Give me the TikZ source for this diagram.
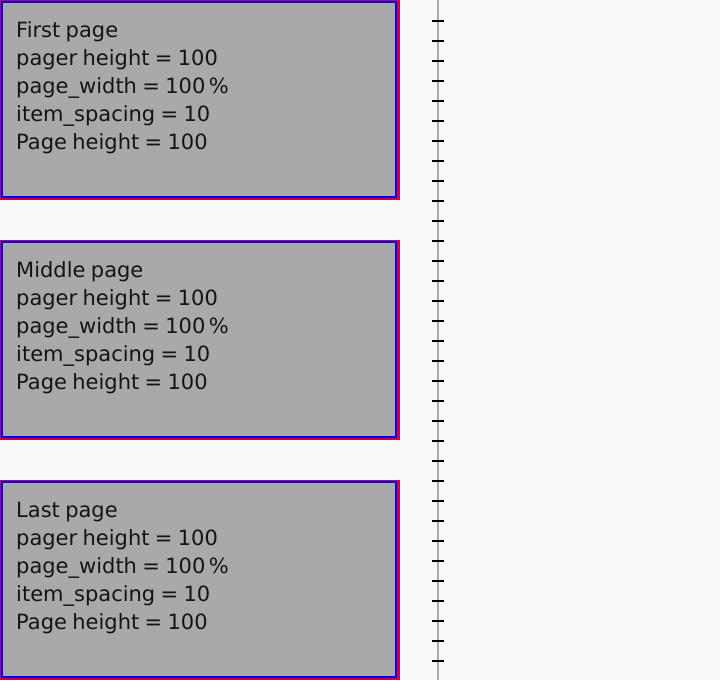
\documentclass[tikz,border=0pt]{standalone}
\usepackage{fontspec}
\setmainfont{DejaVu Sans}[WordSpace=0.8]
\definecolor{pagebg}{HTML}{F9F9F9}
\definecolor{cardfill}{HTML}{A9A9A9}
\definecolor{cardred}{HTML}{CC0044}
\definecolor{cardblue}{HTML}{0000FF}
\definecolor{rulergray}{HTML}{AAAAAA}
\tikzset{
  cardtext/.style={anchor=north west, inner sep=0pt, align=left,
    font=\fontsize{21}{28}\selectfont, text=black!92},
  tickmark/.style={draw=black, line width=2pt},
}
\newcommand{\pagecard}[3]{%
  % red outer frame, blue inner frame, grey body
  \fill[cardred] (0,#1) rectangle (400,#1+200);
  \fill[cardblue] (1,#1+1) rectangle (397,#1+198);
  \fill[cardfill] (3,#1+3) rectangle (395,#1+196);
  \node[cardtext] (#2) at (16,#1+21.7)
    {#3\\pager height = 100\\page\_width = 100\,\%\\item\_spacing = 10\\Page height = 100};
}
\begin{document}
\begin{tikzpicture}[x=1pt,y=-1pt]
  \fill[pagebg] (0,0) rectangle (720,680);
  \useasboundingbox (0,0) rectangle (720,680);
  \pagecard{0}{first}{First page}
  \pagecard{240}{middle}{Middle page}
  \pagecard{480}{last}{Last page}
  % vertical ruler with ticks every 20 units
  \coordinate (rtop) at (438,0);
  \coordinate (rbot) at (438,680);
  \draw[rulergray, line width=2pt] (rtop) -- (rbot);
  \foreach \k in {0,...,32} {
    \draw[tickmark] (432,21+20*\k) -- (444,21+20*\k);
  }
\end{tikzpicture}
\end{document}
